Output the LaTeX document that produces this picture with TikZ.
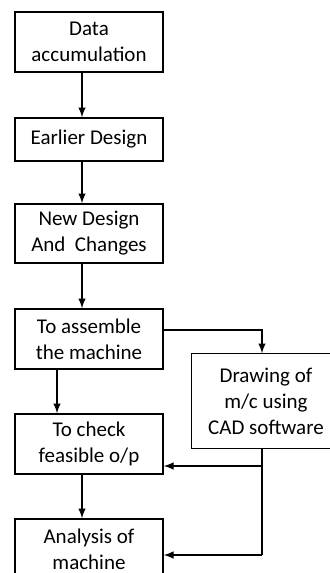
\documentclass[tikz,border=0pt]{standalone}
\usepackage{fontspec}
\setmainfont{Carlito}
\usetikzlibrary{arrows,positioning}

\begin{document}
\begin{tikzpicture} [
      x = 0.5pt, y = -0.5pt,
      line width = 0.7pt,
      every node/.style = { draw, rectangle, align = center, inner sep = 0,
        font = \fontsize{10.5}{13}\selectfont, minimum width = 74pt },
      flow/.style = { -latex }
      ]
      \useasboundingbox (0,0) rectangle (330,573);
      \clip (0,0) rectangle (330,573);

      \node [minimum height = 30pt] (data) at (89,42) {Data\\accumulation};
      \node [minimum height = 21.5pt] (earlier) at (89,139.5) {Earlier Design};
      \node [minimum height = 29.5pt] (newdesign) at (89,233.5) {New Design\\And\ \ Changes};
      \node [minimum height = 30pt] (assemble) at (89,339) {To assemble\\the machine};
      \node [minimum height = 30pt] (check) at (89,444) {To check\\feasible o/p};
      \node [minimum height = 30pt] (analysis) at (89,549) {Analysis of\\machine};
      % box runs off the right edge
      \node [draw = none, minimum height = 47pt, minimum width = 74pt] (drawing) at (266,401) {Drawing of\\m/c using\\CAD software};
      \draw ([xshift=20pt]drawing.north east) -- (drawing.north west) -- (drawing.south west) -- ([xshift=20pt]drawing.south east);

      \draw [flow] ([xshift=-3.5pt]data.south) -- ([xshift=-3.5pt]earlier.north);
      \draw [flow] ([xshift=-3.5pt]earlier.south) -- ([xshift=-3.5pt]newdesign.north);
      \draw [flow] ([xshift=-3.5pt]newdesign.south) -- ([xshift=-3.5pt]assemble.north);
      \draw [flow] ([xshift=-16pt]assemble.south) -- ([xshift=-16pt]check.north);
      \draw [flow] ([xshift=-3.5pt]check.south) -- ([xshift=-3.5pt]analysis.north);

      % side branch
      \coordinate (branch) at (262,466);
      \coordinate (turn) at (262,555);
      \draw [flow] ([yshift=4.5pt]assemble.east) -| (drawing.north -| branch);
      \draw (drawing.south -| branch) -- (turn);
      \draw [flow] (branch) -- (branch -| check.east);
      \draw [flow] (turn) -- (turn -| analysis.east);
    \end{tikzpicture}
\end{document}
